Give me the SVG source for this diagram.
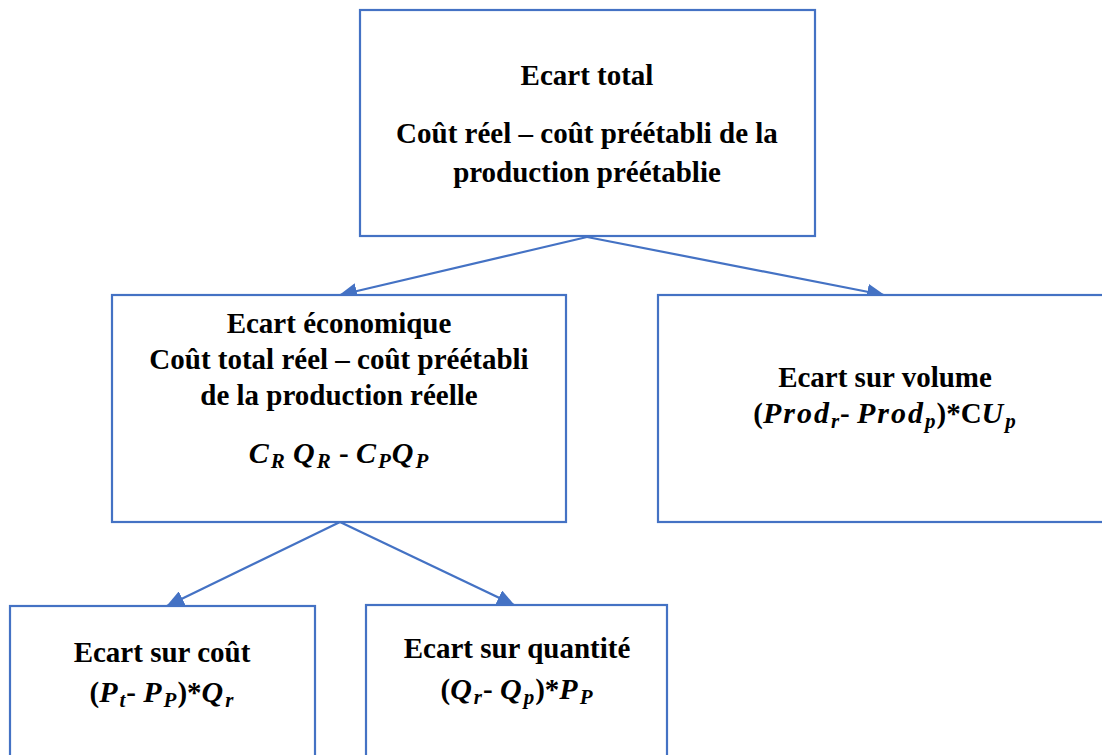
<svg xmlns="http://www.w3.org/2000/svg" width="1102" height="755" viewBox="0 0 1102 755">
  <defs>
    <style>
      .box { fill: #ffffff; stroke: #4472C4; stroke-width: 2.2; }
      .edge { fill: none; stroke: #4472C4; stroke-width: 2.2; }
      .t { font-family: "Liberation Serif", "Times New Roman", serif; font-weight: bold; font-size: 29px; fill: #000000; text-anchor: middle; }
      .m { font-style: italic; font-size: 30px; letter-spacing: 2px; }
      .s { font-size: 21px; font-style: italic; letter-spacing: 1px; }
    </style>
    <marker id="arrow" markerUnits="userSpaceOnUse" markerWidth="18" markerHeight="16" refX="17" refY="8" orient="auto">
      <path d="M0,0 L18,8 L0,16 Z" fill="#4472C4"/>
    </marker>
  </defs>

  <rect width="1102" height="755" fill="#ffffff"/>

  <!-- connectors -->
  <g id="connectors">
    <line class="edge" x1="587" y1="237" x2="340" y2="295" marker-end="url(#arrow)"/>
    <line class="edge" x1="587" y1="237" x2="884" y2="295" marker-end="url(#arrow)"/>
    <line class="edge" x1="340" y1="522" x2="167" y2="606" marker-end="url(#arrow)"/>
    <line class="edge" x1="340" y1="522" x2="514" y2="605" marker-end="url(#arrow)"/>
  </g>

  <!-- total variance -->
  <g id="node-total">
    <rect class="box" x="360" y="10" width="455" height="226"/>
    <text class="t" x="587" y="85">Ecart total</text>
    <text class="t" x="587" y="143">Coût réel – coût préétabli de la</text>
    <text class="t" x="587" y="182">production préétablie</text>
  </g>

  <!-- economic variance -->
  <g id="node-economique">
    <rect class="box" x="112" y="295" width="454" height="227"/>
    <text class="t" x="339" y="333">Ecart économique</text>
    <text class="t" x="339" y="369">Coût total réel – coût préétabli</text>
    <text class="t" x="339" y="405">de la production réelle</text>
    <text class="t" x="339" y="463"><tspan class="m">C</tspan><tspan class="s" dy="5">R</tspan><tspan dy="-5"> </tspan><tspan class="m">Q</tspan><tspan class="s" dy="5">R</tspan><tspan dy="-5"> - </tspan><tspan class="m">C</tspan><tspan class="s" dy="5">P</tspan><tspan class="m" dy="-5">Q</tspan><tspan class="s" dy="5">P</tspan></text>
  </g>

  <!-- volume variance -->
  <g id="node-volume">
    <rect class="box" x="658" y="295" width="460" height="227"/>
    <text class="t" x="885" y="387">Ecart sur volume</text>
    <text class="t" x="885" y="423">(<tspan class="m">Prod</tspan><tspan class="s" dy="5">r</tspan><tspan dy="-5">- </tspan><tspan class="m">Prod</tspan><tspan class="s" dy="5">p</tspan><tspan dy="-5">)*C</tspan><tspan class="m">U</tspan><tspan class="s" dy="5">p</tspan></text>
  </g>

  <!-- cost variance -->
  <g id="node-cout">
    <rect class="box" x="10" y="606" width="305" height="170"/>
    <text class="t" x="162" y="662">Ecart sur coût</text>
    <text class="t" x="162" y="702">(<tspan class="m">P</tspan><tspan class="s" dy="5">t</tspan><tspan dy="-5">- </tspan><tspan class="m">P</tspan><tspan class="s" dy="5">P</tspan><tspan dy="-5">)*</tspan><tspan class="m">Q</tspan><tspan class="s" dy="5">r</tspan></text>
  </g>

  <!-- quantity variance -->
  <g id="node-quantite">
    <rect class="box" x="366" y="605" width="301" height="170"/>
    <text class="t" x="517" y="658">Ecart sur quantité</text>
    <text class="t" x="517" y="699">(<tspan class="m">Q</tspan><tspan class="s" dy="5">r</tspan><tspan dy="-5">- </tspan><tspan class="m">Q</tspan><tspan class="s" dy="5">p</tspan><tspan dy="-5">)*</tspan><tspan class="m">P</tspan><tspan class="s" dy="5">P</tspan></text>
  </g>
</svg>
